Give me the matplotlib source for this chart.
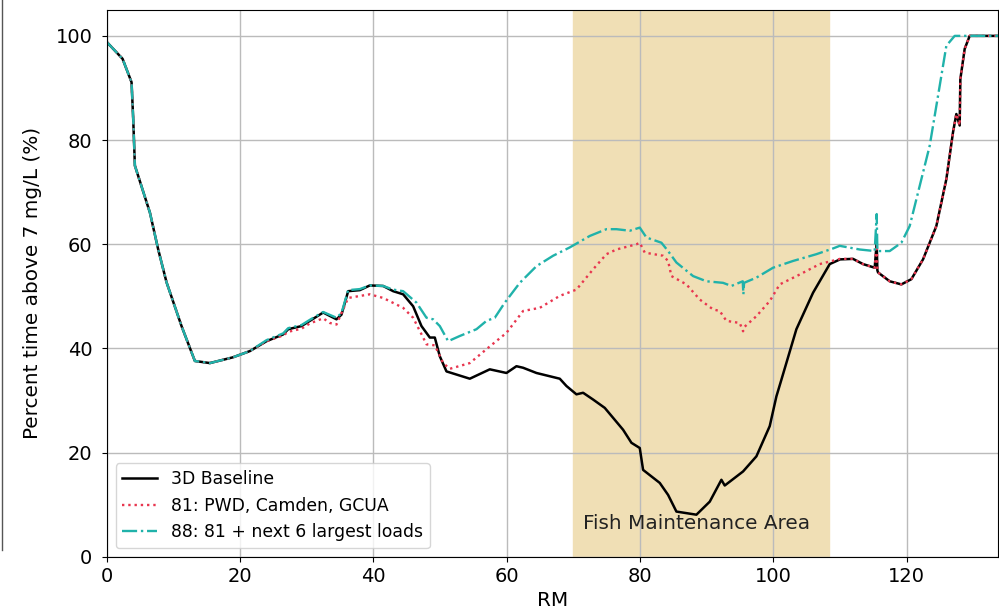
import matplotlib
matplotlib.use('Agg')
import matplotlib.pyplot as plt
from matplotlib.lines import Line2D

# river mile (RM) vs percent of time DO above 7 mg/L
# 3D Baseline
rm_base = [0, 2.35, 3.7, 3.95, 4.2, 6.45, 7.7, 8.95, 11.2, 13.2, 15.45, 18.9, 21.45,
           23.95, 26.45, 27.2, 29.2, 30.45, 32.45, 34.45, 35.2, 36.2, 37.95, 39.45,
           41.45, 42.95, 44.45, 45.95, 47.2, 48.45, 49.2, 49.95, 50.95, 51.95, 54.45,
           57.45, 59.95, 61.45, 62.45, 64.45, 67.95, 68.95, 70.45, 71.45, 72.95, 74.7,
           77.45, 78.7, 79.95, 80.45, 82.95, 84.2, 85.45, 88.45, 90.45, 92.2, 92.7,
           95.45, 97.45, 99.45, 100.45, 101.2, 103.45, 105.95, 108.45, 110.0, 111.95,
           113.45, 115.2, 115.5, 115.6, 115.7, 117.45, 119.2, 120.7, 122.45, 124.45,
           125.95, 126.95, 127.45, 127.95, 128.05, 128.7, 129.45, 133.7]
pct_base = [98.8, 95.6, 91.1, 84.0, 75.1, 66.1, 59.0, 52.7, 44.3, 37.6, 37.2, 38.3, 39.5,
            41.4, 42.7, 43.7, 44.3, 45.3, 46.9, 45.6, 46.5, 51.0, 51.2, 52.1,
            52.0, 51.0, 50.4, 48.1, 44.3, 42.1, 42.1, 38.5, 35.6, 35.2, 34.2,
            36.0, 35.3, 36.6, 36.3, 35.3, 34.2, 32.8, 31.2, 31.5, 30.2, 28.6,
            24.4, 21.9, 20.9, 16.7, 14.2, 11.9, 8.7, 8.1, 10.6, 14.8, 13.7,
            16.4, 19.3, 25.1, 30.8, 34.0, 43.7, 50.7, 56.2, 57.1, 57.2,
            56.2, 55.5, 60.3, 55.0, 54.6, 52.9, 52.3, 53.3, 57.1, 63.5,
            72.5, 81.5, 85.0, 82.8, 91.7, 97.5, 100.0, 100.0]

# 81: PWD, Camden, GCUA
rm_81 = [0, 2.35, 3.7, 3.95, 4.2, 6.45, 7.7, 8.95, 11.2, 13.2, 15.45, 18.9, 21.45,
         23.95, 26.45, 27.2, 29.2, 30.45, 32.45, 33.45, 34.45, 36.2, 39.45, 41.45,
         44.45, 45.95, 47.45, 47.95, 49.2, 50.45, 51.45, 54.45, 57.45, 59.95, 62.45,
         64.95, 67.95, 70.45, 72.95, 74.95, 76.45, 79.45, 79.95, 80.7, 83.45, 84.2,
         84.7, 86.95, 88.95, 90.95, 91.95, 92.95, 94.95, 95.45, 95.7, 97.45, 99.45,
         100.95, 103.95, 106.95, 110.0, 111.95, 113.45, 115.2, 115.5, 115.6, 115.7,
         117.45, 119.2, 120.7, 122.45, 124.45, 125.95, 126.95, 127.45, 127.95, 128.05,
         128.7, 129.45, 133.7]
pct_81 = [98.8, 95.6, 91.1, 84.0, 75.1, 66.1, 59.0, 52.7, 44.3, 37.6, 37.2, 38.3, 39.5,
          41.4, 42.5, 43.2, 43.8, 44.8, 45.8, 44.9, 44.6, 49.7, 50.4, 49.7,
          47.8, 45.9, 42.1, 40.8, 40.6, 37.2, 36.1, 37.2, 40.4, 43.0, 47.2,
          47.8, 50.1, 51.3, 55.2, 58.1, 59.0, 60.0, 60.3, 58.4, 57.8, 56.8,
          53.9, 52.3, 49.4, 47.5, 47.2, 45.3, 44.9, 43.3, 44.2, 46.2, 49.1,
          52.3, 54.2, 56.2, 57.2, 57.2, 56.2, 55.5, 60.3, 55.0, 54.6,
          52.9, 52.3, 53.3, 57.1, 63.5, 72.5, 81.5, 85.0, 82.8, 91.7,
          97.5, 100.0, 100.0]

# 88: 81 + next 6 largest loads
rm_88 = [0, 2.35, 3.7, 3.95, 4.2, 6.45, 7.7, 8.95, 11.2, 13.2, 15.45, 18.9, 21.45,
         23.95, 26.45, 27.2, 29.2, 30.45, 32.45, 34.45, 35.2, 36.2, 37.95, 39.45,
         41.45, 42.95, 44.45, 46.45, 47.95, 48.95, 49.95, 51.2, 52.95, 55.45, 56.95,
         58.2, 59.7, 61.95, 64.45, 66.95, 69.45, 72.45, 74.95, 76.45, 78.45, 79.95,
         80.95, 83.2, 84.2, 85.45, 87.95, 89.95, 92.45, 93.7, 95.4, 95.5, 95.6,
         97.45, 99.95, 102.95, 106.45, 108.95, 109.95, 112.95, 115.2, 115.5, 115.6,
         117.45, 119.2, 120.45, 121.95, 123.45, 124.95, 125.95, 127.2, 133.7]
pct_88 = [98.8, 95.6, 91.1, 84.0, 75.1, 66.1, 59.0, 52.7, 44.3, 37.6, 37.2, 38.3, 39.5,
          41.6, 42.9, 43.9, 44.5, 45.5, 47.0, 45.9, 46.8, 51.2, 51.4, 52.1,
          52.0, 51.3, 51.0, 48.8, 45.9, 45.6, 44.3, 41.4, 42.4, 43.7, 45.3,
          45.9, 48.8, 52.6, 55.8, 57.8, 59.4, 61.6, 62.9, 62.9, 62.6, 63.2,
          61.3, 60.3, 58.7, 56.5, 53.9, 52.9, 52.6, 52.0, 52.9, 50.4, 52.6,
          53.6, 55.5, 56.8, 58.1, 59.2, 59.7, 59.0, 58.7, 65.8, 58.7,
          58.7, 60.3, 63.5, 71.2, 78.9, 90.4, 98.1, 100.0, 100.0]

fig = plt.figure(figsize=(9.99, 6.14), dpi=100)
ax = fig.add_axes([0.107, 0.093, 0.892, 0.891])

# thin border line on the far left (cell edge in the original screenshot)
fig.add_artist(Line2D([0.002, 0.002], [0.105, 1.0], transform=fig.transFigure,
                      color='#555555', lw=1))

ax.axvspan(70, 108.3, color='#f0dfb5')
ax.plot(rm_base, pct_base, color='black', lw=1.8, label='3D Baseline')
ax.plot(rm_81, pct_81, color='#e8364f', lw=1.7, ls=':', label='81: PWD, Camden, GCUA')
ax.plot(rm_88, pct_88, color='lightseagreen', lw=1.7, ls='-.', label='88: 81 + next 6 largest loads')
ax.text(88.5, 6.5, 'Fish Maintenance Area', ha='center', va='center', fontsize=14.4, color='#222222')

ax.set_xlim(0, 133.7)
ax.set_ylim(0, 105)
ax.set_xticks([0, 20, 40, 60, 80, 100, 120])
ax.set_yticks([0, 20, 40, 60, 80, 100])
ax.tick_params(labelsize=14)
ax.tick_params(axis='y', pad=7)
ax.grid(True, color='#bbbbbb', lw=1)
ax.set_xlabel('RM', fontsize=14.4)
ax.set_ylabel('Percent time above 7 mg/L (%)', fontsize=14.4, labelpad=10)
ax.legend(loc='lower left', fontsize=12.4)

plt.savefig('out.png', dpi=100)
